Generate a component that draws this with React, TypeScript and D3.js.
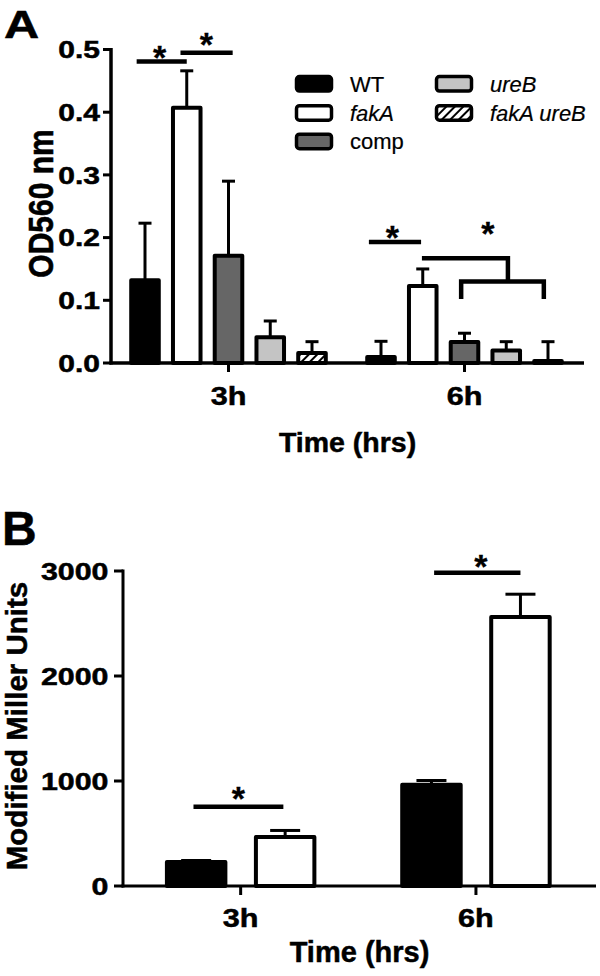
import React from "react";
import * as d3 from "d3";

// ---------- data ----------
const groups = ["3h", "6h"];
const seriesA = ["WT", "fakA", "comp", "ureB", "fakA ureB"];
const italicA = [false, true, false, true, true];
const fillsA = ["#000000", "#ffffff", "#666666", "#c4c4c4", "url(#hatch)"];

const odMean3h = [0.132, 0.407, 0.171, 0.041, 0.016];
const odSd3h = [0.091, 0.059, 0.119, 0.026, 0.018];
const odMean6h = [0.0096, 0.123, 0.0335, 0.02, 0.003];
const odSd6h = [0.025, 0.027, 0.014, 0.014, 0.031];
const odTicks = [0, 0.1, 0.2, 0.3, 0.4, 0.5];

const seriesB = ["WT", "fakA"];
const fillsB = ["#000000", "#ffffff"];
const millerMean3h = [229, 467];
const millerSd3h = [14, 62];
const millerMean6h = [965, 2562];
const millerSd6h = [40, 217];
const millerTicks = [0, 1000, 2000, 3000];

// significance lines: [group, fromIndex, toIndex, yValue]
const sigLinesA: [string, number, number, number][] = [
  ["3h", -0.2, 1.0, 0.481],
  ["3h", 0.85, 2.1, 0.495],
  ["6h", -0.29, 0.96, 0.193],
];
// stars: [group, index, yValue]
const starsA: [string, number, number][] = [
  ["3h", 0.35, 0.498],
  ["3h", 1.47, 0.52],
  ["6h", 0.275, 0.212],
  ["6h", 2.56, 0.2175],
];
// bracket (6h): upper line, drop, lower line with legs
const bracketA = { group: "6h", upFrom: 0.98, upTo: 3.04, upY: 0.167, lowFrom: 1.92, lowTo: 3.9, lowY: 0.13, legY: 0.102 };

const sigLinesB: [string, number, number, number][] = [
  ["3h", -0.03, 0.98, 755],
  ["6h", 0.03, 1.0, 2984],
];
const starsB: [string, number, number][] = [
  ["3h", 0.475, 905],
  ["6h", 0.556, 3114],
];

const FONT = "'Liberation Sans', Arial, Helvetica, sans-serif";

function Txt(props: any) {
  const { x, y, children, size, weight = "bold", anchor = "start", sx = 1, sy = 1, rot = 0, italic = false, sw } = props;
  const strokeW = sw !== undefined ? sw : weight === "bold" ? 0.5 : 0.2;
  return (
    <text
      transform={`translate(${x},${y}) rotate(${rot}) scale(${sx},${sy})`}
      fontFamily={FONT}
      fontSize={size}
      fontWeight={weight}
      fontStyle={italic ? "italic" : "normal"}
      textAnchor={anchor}
      fill="#000"
      stroke="#000"
      strokeWidth={strokeW}
    >
      {children}
    </text>
  );
}

function Star({ x, y }: { x: number; y: number }) {
  const size = 34;
  return <Txt x={x} y={y + 0.55 * size} size={size} anchor="middle" sw={0.3}>*</Txt>;
}

export default function App() {
  // ---------- Panel A scales ----------
  const xA = d3.scaleBand<string>().domain(groups).range([110.5, 582.5]);
  const stepA = 41.75;
  const x1A = d3.scaleBand<string>().domain(seriesA).range([0, stepA * seriesA.length]).paddingInner(0.34).paddingOuter(0.17);
  const yA = d3.scaleLinear().domain([0, 0.5]).range([363, 49.5]);
  const cA = (g: string) => (xA(g) as number) + xA.bandwidth() / 2;
  const posA = (g: string, idx: number) => cA(g) + (idx - (seriesA.length - 1) / 2) * x1A.step();
  const meansA: Record<string, number[]> = { "3h": odMean3h, "6h": odMean6h };
  const sdsA: Record<string, number[]> = { "3h": odSd3h, "6h": odSd6h };

  // ---------- Panel B scales ----------
  const xB = d3.scaleBand<string>().domain(groups).range([123, 593.6]);
  const stepB = 89;
  const x1B = d3.scaleBand<string>().domain(seriesB).range([0, stepB * seriesB.length]).paddingInner(0.343).paddingOuter(0.1715);
  const yB = d3.scaleLinear().domain([0, 3000]).range([886, 571]);
  const cB = (g: string) => (xB(g) as number) + xB.bandwidth() / 2;
  const posB = (g: string, idx: number) => cB(g) + (idx - (seriesB.length - 1) / 2) * x1B.step();
  const meansB: Record<string, number[]> = { "3h": millerMean3h, "6h": millerMean6h };
  const sdsB: Record<string, number[]> = { "3h": millerSd3h, "6h": millerSd6h };

  const fmtA = d3.format(".1f");

  const legendPos = [
    [296.5, 83.8], [296.5, 112.9], [296.5, 141.4],
    [436.5, 83.8], [436.5, 112.9],
  ];

  return (
    <svg width={600} height={976} style={{ position: "absolute", left: 0, top: 0, background: "#fff" }}>
      <defs>
        <pattern id="hatch" patternUnits="userSpaceOnUse" width={6} height={6} patternTransform="rotate(45)">
          <rect width={6} height={6} fill="#fff" />
          <line x1={0} y1={0} x2={0} y2={6} stroke="#000" strokeWidth={4} />
        </pattern>
      </defs>
      <rect x={0} y={0} width={600} height={976} fill="#fff" />

      {/* ================= Panel A ================= */}
      <Txt x={4} y={38} size={39} sx={1.25}>A</Txt>

      {groups.map((g) => (
        <g key={"ga" + g}>
          {seriesA.map((s, i) => {
            const bx = cA(g) - (stepA * seriesA.length) / 2 + (x1A(s) as number);
            const bw = x1A.bandwidth();
            const m = meansA[g][i];
            const sd = sdsA[g][i];
            const cx = bx + bw / 2;
            return (
              <g key={s}>
                <line x1={cx} x2={cx} y1={yA(m)} y2={yA(m + sd)} stroke="#000" strokeWidth={3} />
                <line x1={cx - 6.5} x2={cx + 6.5} y1={yA(m + sd)} y2={yA(m + sd)} stroke="#000" strokeWidth={3} />
                <rect x={bx} y={yA(m)} width={bw} height={yA(0) - yA(m)} fill={fillsA[i]} stroke="#000" strokeWidth={4} strokeLinejoin="round" />
              </g>
            );
          })}
        </g>
      ))}

      {/* axes A */}
      <line x1={111} x2={111} y1={yA(0) + 1.5} y2={yA(0.5) - 1.5} stroke="#000" strokeWidth={3.5} />
      <line x1={109.5} x2={584} y1={yA(0)} y2={yA(0)} stroke="#000" strokeWidth={3.5} />
      {odTicks.map((t) => (
        <g key={"ta" + t}>
          <line x1={103} x2={111} y1={yA(t)} y2={yA(t)} stroke="#000" strokeWidth={3} />
          <Txt x={100} y={yA(t) + 8.6} size={24} sx={1.25} anchor="end">{fmtA(t)}</Txt>
        </g>
      ))}
      {groups.map((g) => (
        <g key={"xa" + g}>
          <line x1={cA(g)} x2={cA(g)} y1={yA(0)} y2={yA(0) + 9} stroke="#000" strokeWidth={3} />
          <Txt x={cA(g)} y={405} size={25.5} sx={1.2} anchor="middle">{g}</Txt>
        </g>
      ))}
      <Txt x={347.5} y={451.7} size={28.5} anchor="middle">Time (hrs)</Txt>
      <Txt x={53} y={203.5} size={30} sy={1.16} rot={-90} anchor="middle">OD560 nm</Txt>

      {/* significance A */}
      {sigLinesA.map(([g, a, b, v], k) => (
        <line key={"sa" + k} x1={posA(g, a)} x2={posA(g, b)} y1={yA(v)} y2={yA(v)} stroke="#000" strokeWidth={4.5} />
      ))}
      {starsA.map(([g, i, v], k) => (
        <Star key={"stA" + k} x={posA(g, i)} y={yA(v)} />
      ))}
      <path
        d={`M${posA(bracketA.group, bracketA.upFrom)},${yA(bracketA.upY)} H${posA(bracketA.group, bracketA.upTo)} V${yA(bracketA.lowY)}`}
        fill="none" stroke="#000" strokeWidth={4.5} strokeLinejoin="miter"
      />
      <path
        d={`M${posA(bracketA.group, bracketA.lowFrom)},${yA(bracketA.legY)} V${yA(bracketA.lowY)} H${posA(bracketA.group, bracketA.lowTo)} V${yA(bracketA.legY)}`}
        fill="none" stroke="#000" strokeWidth={4.5} strokeLinejoin="miter"
      />

      {/* legend A */}
      {seriesA.map((s, i) => {
        const [lx, ly] = legendPos[i];
        return (
          <g key={"lg" + s}>
            <rect x={lx} y={ly - 7.25} width={35} height={14.5} rx={3} fill={fillsA[i]} stroke="#000" strokeWidth={3.5} />
            <Txt x={lx + 53.5} y={ly + 8} size={22} weight="normal" italic={italicA[i]}>{s}</Txt>
          </g>
        );
      })}

      {/* ================= Panel B ================= */}
      <Txt x={2} y={545} size={48}>B</Txt>

      {groups.map((g) => (
        <g key={"gb" + g}>
          {seriesB.map((s, i) => {
            const bx = cB(g) - (stepB * seriesB.length) / 2 + (x1B(s) as number);
            const bw = x1B.bandwidth();
            const m = meansB[g][i];
            const sd = sdsB[g][i];
            const cx = bx + bw / 2;
            return (
              <g key={s}>
                <line x1={cx} x2={cx} y1={yB(m)} y2={yB(m + sd)} stroke="#000" strokeWidth={3} />
                <line x1={cx - 15} x2={cx + 15} y1={yB(m + sd)} y2={yB(m + sd)} stroke="#000" strokeWidth={3} />
                <rect x={bx} y={yB(m)} width={bw} height={yB(0) - yB(m)} fill={fillsB[i]} stroke="#000" strokeWidth={4} strokeLinejoin="round" />
              </g>
            );
          })}
        </g>
      ))}

      <line x1={123} x2={123} y1={yB(0) + 1.5} y2={yB(3000) - 1.5} stroke="#000" strokeWidth={3} />
      <line x1={121.5} x2={596} y1={yB(0)} y2={yB(0)} stroke="#000" strokeWidth={3} />
      {millerTicks.map((t) => (
        <g key={"tb" + t}>
          <line x1={114} x2={123} y1={yB(t)} y2={yB(t)} stroke="#000" strokeWidth={3} />
          <Txt x={108.5} y={yB(t) + 8.8} size={24.5} sx={1.24} anchor="end">{String(t)}</Txt>
        </g>
      ))}
      {groups.map((g) => (
        <g key={"xb" + g}>
          <line x1={cB(g)} x2={cB(g)} y1={yB(0)} y2={yB(0) + 9} stroke="#000" strokeWidth={3} />
          <Txt x={cB(g)} y={926.7} size={25.5} sx={1.2} anchor="middle">{g}</Txt>
        </g>
      ))}
      <Txt x={359.5} y={961.7} size={29} anchor="middle">Time (hrs)</Txt>
      <Txt x={27} y={726} size={29.5} rot={-90} anchor="middle">Modified Miller Units</Txt>

      {sigLinesB.map(([g, a, b, v], k) => (
        <line key={"sb" + k} x1={posB(g, a)} x2={posB(g, b)} y1={yB(v)} y2={yB(v)} stroke="#000" strokeWidth={4.5} />
      ))}
      {starsB.map(([g, i, v], k) => (
        <Star key={"stB" + k} x={posB(g, i)} y={yB(v)} />
      ))}
    </svg>
  );
}
